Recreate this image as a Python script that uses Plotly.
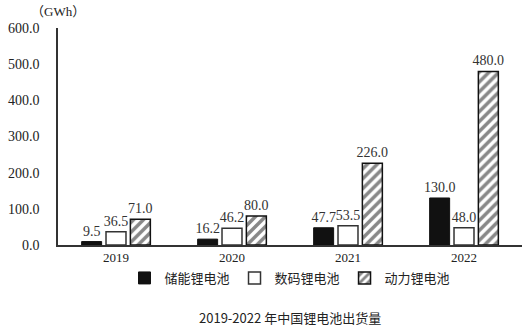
import plotly.graph_objects as go

years = ["2019", "2020", "2021", "2022"]
storage = [9.5, 16.2, 47.7, 130.0]
digital = [36.5, 46.2, 53.5, 48.0]
power = [71.0, 80.0, 226.0, 480.0]
names = ["储能锂电池", "数码锂电池", "动力锂电池"]
yticks = [0, 100, 200, 300, 400, 500, 600]

font_num = "Liberation Serif, Noto Sans CJK SC, serif"
font_cjk = "Noto Sans CJK SC, sans-serif"
lbl = dict(family=font_num, size=14, color="#333333")

fig = go.Figure()
fig.add_trace(go.Bar(
    x=years, y=storage, name=names[0],
    marker=dict(color="#111111", line=dict(color="#111111", width=1)),
    text=[f"{v:.1f}" for v in storage], textposition="outside",
    textfont=lbl, cliponaxis=False, constraintext="none",
))
fig.add_trace(go.Bar(
    x=years, y=digital, name=names[1],
    marker=dict(color="white", line=dict(color="#333333", width=1.5)),
    text=[f"{v:.1f}" for v in digital], textposition="outside",
    textfont=lbl, cliponaxis=False, constraintext="none",
))
fig.add_trace(go.Bar(
    x=years, y=power, name=names[2],
    marker=dict(color="white", line=dict(color="#111111", width=1.5),
                pattern=dict(shape="/", fgcolor="#111111", bgcolor="white",
                             size=7, solidity=0.5, fillmode="overlay")),
    text=[f"{v:.1f}" for v in power], textposition="outside",
    textfont=lbl, cliponaxis=False, constraintext="none",
))

fig.update_layout(
    width=530, height=332,
    margin=dict(l=54, r=8, t=28, b=87),
    plot_bgcolor="white", paper_bgcolor="white",
    barmode="group", bargap=0.37, bargroupgap=0.18,
    showlegend=True,
    legend=dict(orientation="h", x=0.5, xanchor="center", y=-0.152, yanchor="middle",
                font=dict(family=font_cjk, size=13, color="#222222"),
                itemwidth=30, traceorder="normal"),
    xaxis=dict(showline=True, linecolor="#333333", linewidth=1.5, ticks="",
               tickfont=dict(family=font_num, size=13, color="#222222"),
               showgrid=False),
    yaxis=dict(range=[0, 600], tickvals=yticks,
               ticktext=[f"{v:.1f}" for v in yticks],
               showline=True, linecolor="#333333", linewidth=1.5, ticks="",
               showgrid=False, zeroline=False, ticklabelstandoff=14,
               tickfont=dict(family=font_num, size=14, color="#222222")),
    annotations=[
        dict(text="（GWh）", x=0, xref="paper", xanchor="center", y=1.0, yref="paper",
             yanchor="bottom", yshift=7, showarrow=False,
             font=dict(family=font_num, size=13, color="#222222")),
        dict(text="2019-2022 年中国锂电池出货量", x=0.5, xref="paper", xanchor="center",
             y=-0.336, yref="paper", yanchor="middle", showarrow=False,
             font=dict(family=font_cjk, size=13, color="#222222")),
    ],
)

fig.write_html("out.html")
